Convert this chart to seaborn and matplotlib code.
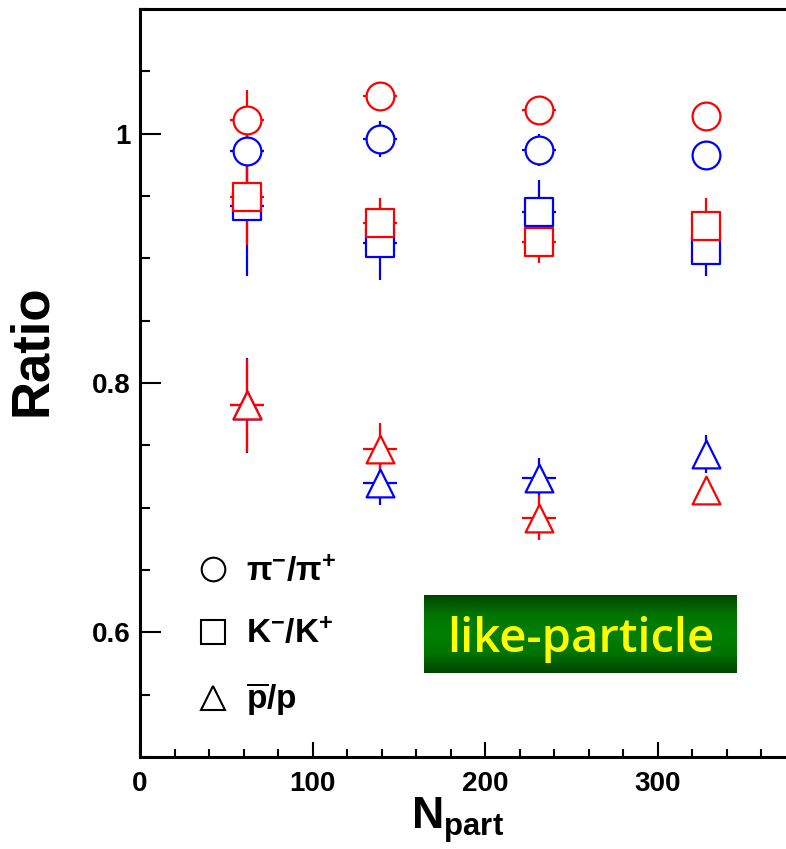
import numpy as np
import pandas as pd
import matplotlib
matplotlib.use('Agg')
import matplotlib.pyplot as plt
import seaborn as sns
from matplotlib.ticker import MultipleLocator, FuncFormatter
from matplotlib.lines import Line2D
from matplotlib.colors import LinearSegmentedColormap

# ---------------- data ----------------
npart = [62, 139, 231, 328]
npart_err = [10, 10, 10, 0]

species = ['pi', 'K', 'pbar']
species_labels = [r'$\mathbf{\pi^{-}/\pi^{+}}$', r'$\mathbf{K^{-}/K^{+}}$', r'$\mathbf{\overline{p}/p}$']
species_markers = ['o', 's', '^']

# red series
pi_red = [1.011, 1.030, 1.019, 1.014]
pi_red_err = [0.024, 0.011, 0.010, 0.005]
k_red = [0.949, 0.928, 0.913, 0.926]
k_red_err = [0.038, 0.020, 0.017, 0.022]
p_red = [0.782, 0.747, 0.692, 0.714]
p_red_err = [0.037, 0.021, 0.018, 0.011]

# blue series
pi_blue = [0.986, 0.996, 0.987, 0.983]
pi_blue_err = [0.026, 0.0145, 0.013, 0.006]
k_blue = [0.942, 0.912, 0.9375, 0.9065]
k_blue_err = [0.056, 0.029, 0.025, 0.021]
p_blue = [0.782, 0.720, 0.724, 0.743]
p_blue_err = [0.038, 0.018, 0.016, 0.015]

series_colors = {'blue': '#0000ff', 'red': '#ff0000'}

rows = []
for series, vals in [('blue', [(pi_blue, pi_blue_err), (k_blue, k_blue_err), (p_blue, p_blue_err)]),
                     ('red', [(pi_red, pi_red_err), (k_red, k_red_err), (p_red, p_red_err)])]:
    for sp, (v, e) in zip(species, vals):
        for n, ne, y, ye in zip(npart, npart_err, v, e):
            rows.append(dict(series=series, species=sp, npart=n, npart_err=ne, ratio=y, err=ye))
df = pd.DataFrame(rows)

# ---------------- style ----------------
sns.set_theme(style='ticks')
plt.rcParams['font.family'] = ['Liberation Sans', 'DejaVu Sans']
plt.rcParams['font.weight'] = 'bold'
plt.rcParams['text.color'] = 'black'
plt.rcParams['axes.labelcolor'] = 'black'
plt.rcParams['mathtext.fontset'] = 'custom'
plt.rcParams['mathtext.rm'] = 'Liberation Sans:bold'
plt.rcParams['mathtext.bf'] = 'Liberation Sans:bold'
plt.rcParams['mathtext.it'] = 'Liberation Sans:bold:italic'

fig = plt.figure(figsize=(7.86, 8.49), dpi=100)
ax = fig.add_axes([140 / 786, 92 / 849, 656 / 786, 748 / 849])

# error bars
for series in ['blue', 'red']:
    sub = df[df.series == series]
    ax.errorbar(sub.npart, sub.ratio, yerr=sub.err, xerr=sub.npart_err, fmt='none',
                ecolor=series_colors[series], elinewidth=1.6, capsize=0, zorder=2)

# markers
for series in ['blue', 'red']:
    for sp, mk in zip(species, species_markers):
        sub = df[(df.series == series) & (df.species == sp)]
        sns.scatterplot(data=sub, x='npart', y='ratio', marker=mk, s=400,
                        color=series_colors[series], facecolor='white',
                        edgecolor=series_colors[series], linewidth=1.6,
                        ax=ax, zorder=3, legend=False)

# legend (black open markers)
handles = [Line2D([], [], ls='none', marker=m, ms=17, mfc='none', mec='black', mew=1.5)
           for m in species_markers]
ax.legend(handles, species_labels, loc='upper left', bbox_to_anchor=(0.088, 0.2687),
          frameon=False, fontsize=24, handlelength=0.9, handletextpad=0.55,
          labelspacing=0.93, borderaxespad=0, borderpad=0)

# "like-particle" badge with green gradient
grad = np.abs(np.linspace(-1, 1, 200)).reshape(-1, 1)
cmap = LinearSegmentedColormap.from_list('g', ['#008000', '#007400', '#004400'])
ax.imshow(grad, extent=[0.433, 0.9096, 0.1127, 0.2166], transform=ax.transAxes,
          aspect='auto', cmap=cmap, zorder=4, interpolation='bilinear')
ax.text(0.672, 0.1408, 'like-particle', transform=ax.transAxes, ha='center', va='baseline',
        color='#ffff00', fontsize=34, fontweight='semibold', family=['Open Sans', 'DejaVu Sans'],
        zorder=5)

# axes
ax.set_xlim(0, 380)
ax.set_ylim(0.5, 1.1)
ax.xaxis.set_major_locator(MultipleLocator(100))
ax.xaxis.set_minor_locator(MultipleLocator(20))
ax.yaxis.set_major_locator(MultipleLocator(0.2))
ax.yaxis.set_minor_locator(MultipleLocator(0.05))
ax.yaxis.set_major_formatter(FuncFormatter(lambda v, p: f'{v:g}'))
ax.xaxis.set_major_formatter(FuncFormatter(lambda v, p: f'{v:g}'))

ax.tick_params(axis='both', which='both', direction='in', colors='black')
ax.tick_params(axis='y', which='major', length=15, width=1.5, labelsize=20, pad=7)
ax.tick_params(axis='y', which='minor', length=7.5, width=1.5)
ax.tick_params(axis='x', which='major', length=11, width=1.5, labelsize=20, pad=10)
ax.tick_params(axis='x', which='minor', length=6, width=1.5)
for s in ax.spines.values():
    s.set_color('black')
    s.set_linewidth(2.2)

ax.set_ylabel('Ratio', fontsize=38, fontweight='bold', color='black')
ax.yaxis.label.set_va('center')
ax.yaxis.set_label_coords(-0.165, 0.544)
ax.set_xlabel(r'$\mathbf{N_{part}}$', fontsize=32, color='black')
ax.xaxis.set_label_coords(0.484, -0.051)

fig.savefig('out.png', dpi=100)
